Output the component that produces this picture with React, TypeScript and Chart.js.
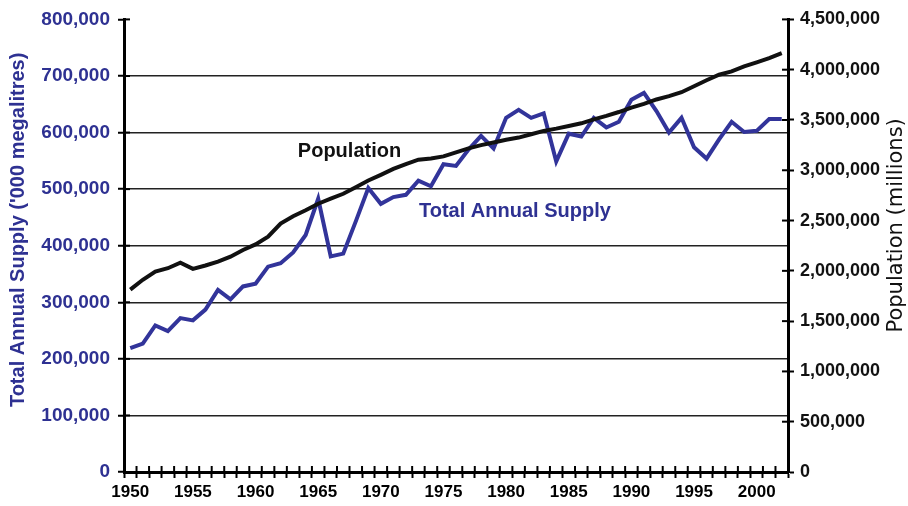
import React, { useEffect, useRef } from "react";
import { Chart, registerables } from "chart.js";

Chart.register(...registerables);

const years = [
  "1950", "1951", "1952", "1953", "1954", "1955", "1956", "1957", "1958", "1959",
  "1960", "1961", "1962", "1963", "1964", "1965", "1966", "1967", "1968", "1969",
  "1970", "1971", "1972", "1973", "1974", "1975", "1976", "1977", "1978", "1979",
  "1980", "1981", "1982", "1983", "1984", "1985", "1986", "1987", "1988", "1989",
  "1990", "1991", "1992", "1993", "1994", "1995", "1996", "1997", "1998", "1999",
  "2000", "2001", "2002",
];

const totalAnnualSupply = [
  219000, 227000, 259000, 249000, 272000, 268000, 287000, 322000, 305000, 328000,
  333000, 363000, 369000, 388000, 419000, 483000, 381000, 386000, 443000, 502000,
  474000, 486000, 490000, 515000, 505000, 544000, 541000, 570000, 594000, 572000,
  626000, 640000, 626000, 634000, 549000, 598000, 593000, 626000, 609000, 619000,
  658000, 670000, 638000, 600000, 626000, 574000, 554000, 588000, 619000, 601000,
  603000, 624000, 624000,
];

const population = [
  1813000, 1911000, 1993000, 2026000, 2082000, 2020000, 2053000, 2092000, 2141000, 2207000,
  2263000, 2339000, 2470000, 2543000, 2602000, 2667000, 2717000, 2766000, 2832000, 2898000,
  2954000, 3013000, 3062000, 3105000, 3118000, 3138000, 3177000, 3217000, 3250000, 3276000,
  3303000, 3325000, 3358000, 3391000, 3414000, 3440000, 3467000, 3506000, 3540000, 3579000,
  3622000, 3661000, 3704000, 3737000, 3776000, 3836000, 3895000, 3950000, 3983000, 4033000,
  4073000, 4115000, 4164000,
];

// In-chart labels: text, category position (index), value, axis
const labelTexts = ["Population", "Total Annual Supply"];
const labelIndex = [17.5, 30.7];
const labelValues = [3187000, 461000];
const labelAxes = ["yRight", "yLeft"];

const leftTitle = "Total Annual Supply ('000 megalitres)";
const rightTitle = "Population (millions)";

const BLUE = "#2e3192";
const LINE_BLUE = "#32349a";
const SANS = "'Liberation Sans', Arial, sans-serif";

const fmt = (v: number) => Number(v).toLocaleString("en-US");

const extrasPlugin = {
  id: "extras",
  afterDatasetsDraw(chart: any) {
    const ctx = chart.ctx;
    const area = chart.chartArea;
    const xs = chart.scales.x;
    const yl = chart.scales.yLeft;
    const yr = chart.scales.yRight;
    ctx.save();
    // inner halves of the crossing tick marks
    ctx.strokeStyle = "#000";
    ctx.lineWidth = 2;
    const n = years.length;
    for (let i = 0; i <= n; i++) {
      const x = xs.getPixelForValue(i - 0.5);
      ctx.beginPath();
      ctx.moveTo(x, area.bottom);
      ctx.lineTo(x, area.bottom - 6);
      ctx.stroke();
    }
    yr.ticks.forEach((t: any) => {
      const y = yr.getPixelForValue(t.value);
      ctx.beginPath();
      ctx.moveTo(area.right, y);
      ctx.lineTo(area.right - 6, y);
      ctx.stroke();
    });
    yl.ticks.forEach((t: any) => {
      const y = yl.getPixelForValue(t.value);
      ctx.beginPath();
      ctx.moveTo(area.left, y);
      ctx.lineTo(area.left + 6, y);
      ctx.stroke();
    });
    // text labels inside the plot
    ctx.textAlign = "center";
    ctx.textBaseline = "middle";
    ctx.font = `bold 20px ${SANS}`;
    labelTexts.forEach((txt, i) => {
      const x = xs.getPixelForValue(labelIndex[i]);
      const sc = chart.scales[labelAxes[i]];
      const y = sc.getPixelForValue(labelValues[i]);
      ctx.fillStyle = labelAxes[i] === "yLeft" ? BLUE : "#111";
      ctx.fillText(txt, x, y);
    });
    // axis titles
    const midL = area.top + (area.bottom - area.top) * 0.465;
    ctx.save();
    ctx.translate(18, midL);
    ctx.rotate(-Math.PI / 2);
    ctx.font = `bold 20px ${SANS}`;
    ctx.fillStyle = BLUE;
    ctx.fillText(leftTitle, 0, 0);
    ctx.restore();
    const midR = area.top + (area.bottom - area.top) * 0.455;
    ctx.save();
    ctx.translate(chart.width - 11, midR);
    ctx.rotate(-Math.PI / 2);
    ctx.font = `21px 'DejaVu Sans', Verdana, sans-serif`;
    ctx.fillStyle = "#111";
    ctx.fillText(rightTitle, 0, 0);
    ctx.restore();
    ctx.restore();
  },
};

export default function App() {
  const ref = useRef<HTMLCanvasElement | null>(null);

  useEffect(() => {
    if (!ref.current) return;
    const chart = new Chart(ref.current, {
      type: "line",
      data: {
        labels: years,
        datasets: [
          {
            label: "Population",
            data: population,
            yAxisID: "yRight",
            borderColor: "#111",
            borderWidth: 4,
            pointRadius: 0,
            tension: 0,
            fill: false,
          },
          {
            label: "Total Annual Supply",
            data: totalAnnualSupply,
            yAxisID: "yLeft",
            borderColor: LINE_BLUE,
            borderWidth: 4,
            pointRadius: 0,
            tension: 0,
            fill: false,
          },
        ],
      },
      options: {
        animation: false,
        responsive: true,
        maintainAspectRatio: false,
        layout: { padding: { top: 16, left: 0, right: 0, bottom: 0 } },
        plugins: {
          legend: { display: false },
          tooltip: { enabled: false },
        },
        scales: {
          x: {
            type: "category",
            offset: true,
            grid: {
              offset: true,
              drawOnChartArea: false,
              tickLength: 6,
              tickColor: "#000",
              tickWidth: 2,
            },
            border: { color: "#000", width: 3 },
            ticks: {
              autoSkip: false,
              maxRotation: 0,
              minRotation: 0,
              padding: 4,
              color: "#000",
              font: { family: SANS, size: 17, weight: "bold" },
              callback: (_v: any, i: number) => (i % 5 === 0 ? years[i] : ""),
            },
            afterFit: (s: any) => {
              s.height = 34;
            },
          },
          yLeft: {
            type: "linear",
            position: "left",
            min: 0,
            max: 800000,
            grid: {
              color: (c: any) => (c.tick && c.tick.value === 800000 ? "rgba(0,0,0,0)" : "#222"),
              lineWidth: 1.5,
              tickLength: 6,
              tickColor: "#000",
              tickWidth: 2,
            },
            border: { color: "#000", width: 3 },
            ticks: {
              stepSize: 100000,
              padding: 8,
              color: BLUE,
              font: { family: SANS, size: 19, weight: "bold" },
              callback: (v: any) => fmt(v),
            },
            afterFit: (s: any) => {
              s.width = 124;
            },
          },
          yRight: {
            type: "linear",
            position: "right",
            min: 0,
            max: 4500000,
            grid: {
              drawOnChartArea: false,
              tickLength: 6,
              tickColor: "#000",
              tickWidth: 2,
            },
            border: { color: "#000", width: 3 },
            ticks: {
              stepSize: 500000,
              padding: 6,
              color: "#111",
              font: { family: SANS, size: 18, weight: "bold" },
              callback: (v: any) => fmt(v),
            },
            afterFit: (s: any) => {
              s.width = 120;
            },
          },
        },
      },
      plugins: [extrasPlugin],
    } as any);
    return () => chart.destroy();
  }, []);

  return (
    <div style={{ position: "absolute", left: 0, top: 0, width: 908, height: 506, background: "#fff" }}>
      <canvas ref={ref} />
    </div>
  );
}
